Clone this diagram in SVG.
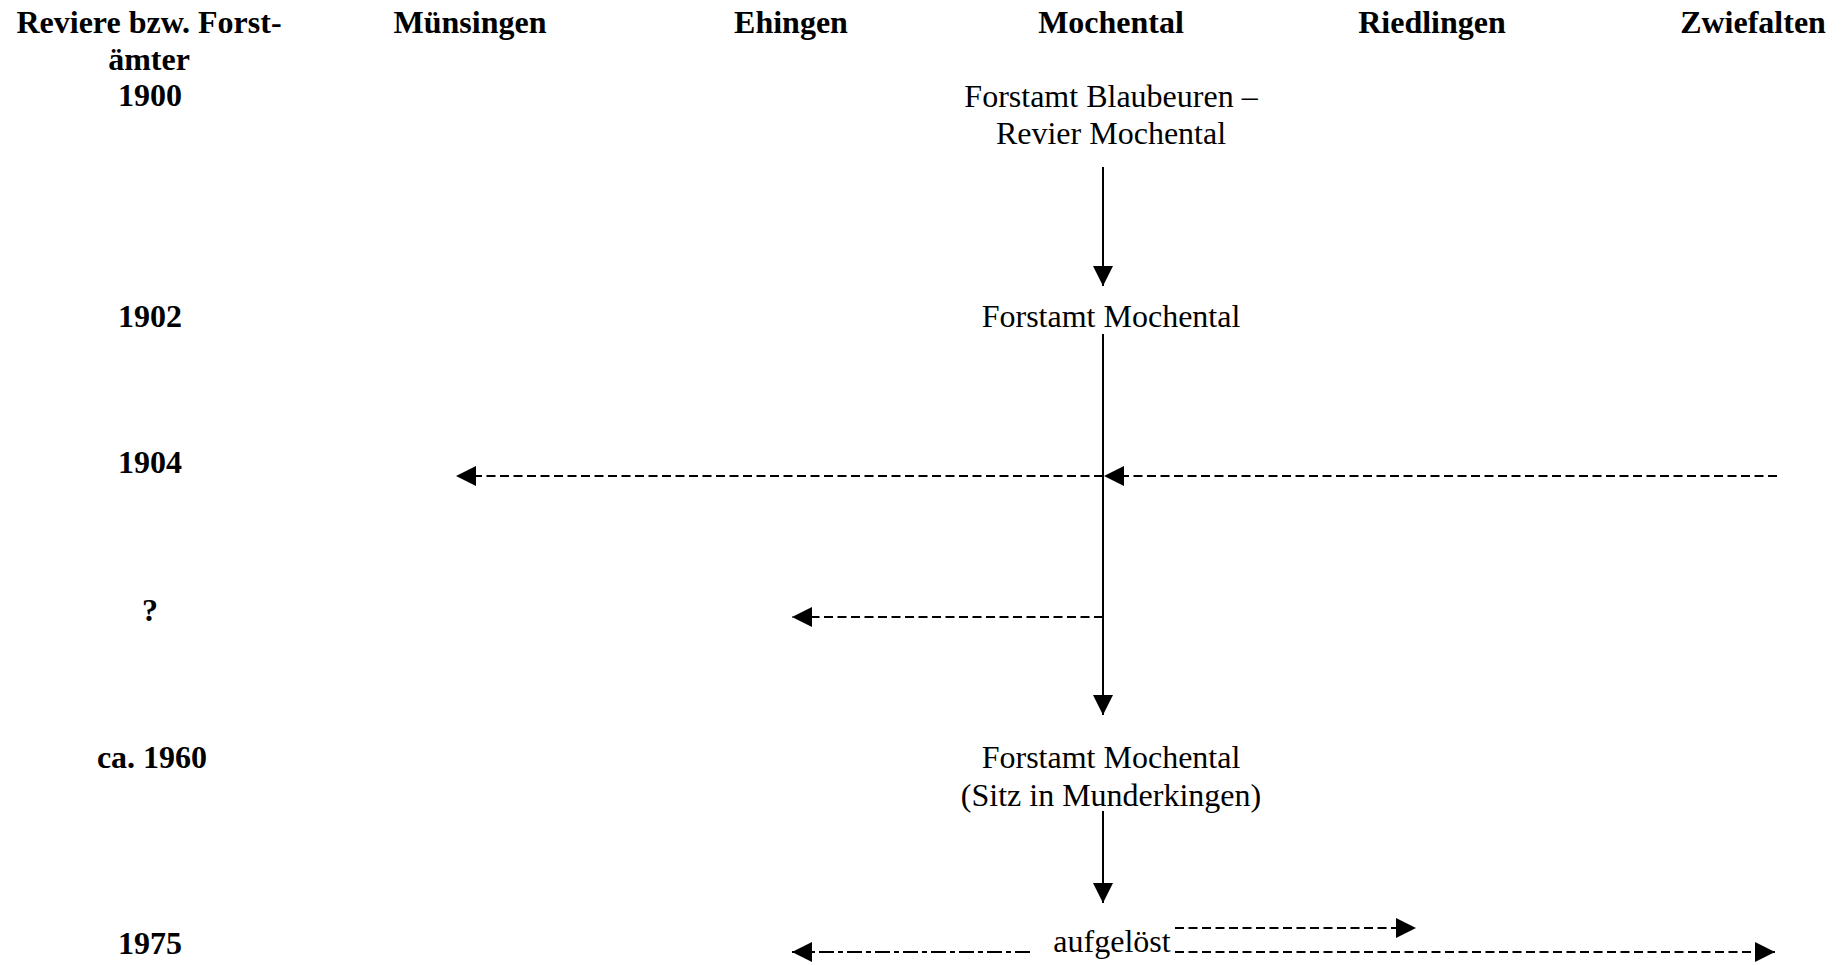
<svg xmlns="http://www.w3.org/2000/svg" width="1843" height="965" viewBox="0 0 1843 965">
<style>
text{font-family:"Liberation Serif","Times New Roman",serif;font-size:32px;fill:#000;text-anchor:middle}
.b{font-weight:bold}
.ln{stroke:#000;stroke-width:2;fill:none}
.dash{stroke-dasharray:9 4.5}
.dd{stroke-dasharray:15 4 5 4}
</style>
<defs>
<marker id="ah" viewBox="0 0 10 10" refX="10" refY="5" markerUnits="userSpaceOnUse" markerWidth="21" markerHeight="20" orient="auto">
<path d="M0,0 L10,5 L0,10 z" fill="#000"/>
</marker>
</defs>
<rect width="1843" height="965" fill="#fff"/>
<g id="headers">
<text class="b" x="149" y="33">Reviere bzw. Forst-</text>
<text class="b" x="149" y="70">ämter</text>
<text class="b" x="470" y="33">Münsingen</text>
<text class="b" x="791" y="33">Ehingen</text>
<text class="b" x="1111" y="33">Mochental</text>
<text class="b" x="1432" y="33">Riedlingen</text>
<text class="b" x="1753" y="33">Zwiefalten</text>
</g>
<g id="years">
<text class="b" x="150" y="106">1900</text>
<text class="b" x="150" y="327">1902</text>
<text class="b" x="150" y="473">1904</text>
<text class="b" x="150" y="621">?</text>
<text class="b" x="152" y="768">ca. 1960</text>
<text class="b" x="150" y="954">1975</text>
</g>
<g id="node-1900">
<text x="1111" y="107">Forstamt Blaubeuren –</text>
<text x="1111" y="144">Revier Mochental</text>
</g>
<g id="node-1902">
<text x="1111" y="327">Forstamt Mochental</text>
</g>
<g id="node-1960">
<text x="1111" y="768">Forstamt Mochental</text>
<text x="1111" y="806">(Sitz in Munderkingen)</text>
</g>
<g id="node-1975">
<text x="1112" y="952">aufgelöst</text>
</g>
<g id="connectors">
<line class="ln" x1="1103" y1="167" x2="1103" y2="286" marker-end="url(#ah)"/>
<line class="ln" x1="1103" y1="334" x2="1103" y2="715" marker-end="url(#ah)"/>
<line class="ln dash" x1="1103" y1="476" x2="456" y2="476" marker-end="url(#ah)"/>
<line class="ln dash" x1="1777" y1="476" x2="1104" y2="476" marker-end="url(#ah)"/>
<line class="ln dash" x1="1103" y1="617" x2="792" y2="617" marker-end="url(#ah)"/>
<line class="ln" x1="1103" y1="811" x2="1103" y2="903" marker-end="url(#ah)"/>
<line class="ln dd" x1="1030" y1="952" x2="792" y2="952" marker-end="url(#ah)"/>
<line class="ln dash" x1="1175" y1="928" x2="1416" y2="928" marker-end="url(#ah)"/>
<line class="ln dash" x1="1175" y1="952" x2="1775" y2="952" marker-end="url(#ah)"/>
</g>
</svg>
